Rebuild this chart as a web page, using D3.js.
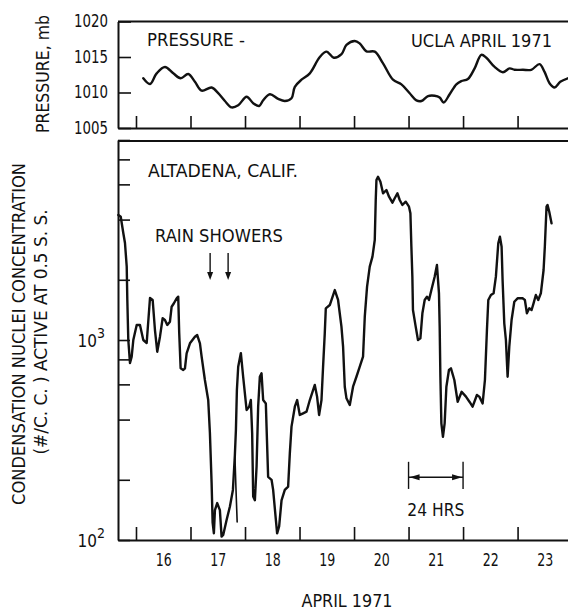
<!DOCTYPE html>
<html>
<head>
<meta charset="utf-8">
<script src="https://cdn.jsdelivr.net/npm/d3@7"></script>
<style>
  html, body { margin: 0; padding: 0; background: #fff; }
  svg { display: block; }
  text { font-family: "Liberation Sans Narrow", "DejaVu Sans Condensed", "Arial Narrow", sans-serif; fill: #111; }
</style>
</head>
<body>
<svg id="chart" width="568" height="612"></svg>
<script>
// Surface pressure at UCLA, April 1971: [day of month, mb]
const pressureDays = [16.134,16.257,16.379,16.531,16.684,16.819,16.958,17.081,17.204,17.387,17.508,17.631,17.754,17.875,18.029,18.150,18.259,18.333,18.456,18.608,18.730,18.853,18.914,19.036,19.189,19.372,19.495,19.628,19.770,19.861,20.013,20.105,20.228,20.380,20.532,20.715,20.869,21.021,21.144,21.236,21.357,21.479,21.571,21.644,21.754,21.877,21.968,22.089,22.212,22.335,22.427,22.579,22.731,22.854,22.945,23.097,23.251,23.403,23.495,23.586,23.678,23.783,23.922];
const pressureMb = [1012.0,1011.2,1012.7,1013.6,1012.7,1012.0,1012.6,1011.5,1010.25,1010.7,1009.9,1008.8,1007.9,1008.2,1009.4,1008.5,1008.1,1008.9,1009.75,1009.1,1008.8,1009.2,1010.8,1011.8,1012.7,1015.0,1015.75,1014.9,1015.4,1016.7,1017.25,1016.9,1015.8,1015.75,1014.1,1011.8,1011.15,1009.9,1008.9,1008.8,1009.5,1009.55,1009.3,1008.6,1009.75,1011.15,1011.6,1011.9,1013.4,1015.3,1014.9,1013.6,1012.85,1013.4,1013.2,1013.2,1013.2,1014.0,1012.9,1011.3,1010.7,1011.5,1012.0];

// Condensation nuclei active at 0.5% supersaturation, Altadena: [day, #/cc]
const cnDays = [15.676,15.720,15.767,15.798,15.830,15.841,15.859,15.890,15.921,15.951,16.013,16.073,16.134,16.196,16.257,16.306,16.348,16.390,16.440,16.489,16.531,16.574,16.623,16.654,16.696,16.746,16.775,16.793,16.819,16.867,16.898,16.929,16.990,17.081,17.123,17.173,17.204,17.264,17.325,17.356,17.387,17.406,17.429,17.448,17.490,17.539,17.570,17.600,17.662,17.723,17.778,17.814,17.833,17.851,17.875,17.924,17.966,18.029,18.076,18.107,18.131,18.150,18.181,18.212,18.241,18.272,18.303,18.333,18.382,18.395,18.424,18.487,18.516,18.566,18.589,18.626,18.670,18.730,18.791,18.822,18.853,18.914,18.956,19.005,19.066,19.128,19.189,19.280,19.322,19.359,19.403,19.432,19.463,19.482,19.555,19.647,19.707,19.769,19.799,19.830,19.861,19.922,19.982,20.044,20.105,20.165,20.197,20.239,20.288,20.338,20.380,20.398,20.411,20.440,20.484,20.532,20.594,20.642,20.704,20.746,20.796,20.838,20.887,20.948,21.008,21.034,21.052,21.070,21.081,21.131,21.173,21.217,21.254,21.296,21.338,21.375,21.419,21.479,21.521,21.558,21.571,21.584,21.602,21.631,21.662,21.694,21.741,21.778,21.840,21.901,21.974,22.053,22.120,22.175,22.254,22.298,22.359,22.401,22.438,22.463,22.511,22.560,22.602,22.646,22.676,22.707,22.725,22.756,22.786,22.817,22.848,22.890,22.940,23.000,23.092,23.134,23.171,23.215,23.257,23.293,23.335,23.379,23.427,23.477,23.500,23.531,23.550,23.581,23.623];
const cnValues = [4217,4135,3428,3055,2326,1585,1000,767,825,1000,1189,1189,1000,966,1622,1585,1122,874,1039,1284,1259,1189,1235,1467,1526,1616,1646,1084,722,708,722,858,963,1039,1059,963,825,631,501,343,193,122,108,141,153,141,104,106,126,147,178,266,355,562,735,860,655,447,464,501,343,165,158,233,464,655,681,501,482,369,207,200,178,126,108,117,158,178,185,271,369,464,501,422,430,438,501,596,521,422,501,735,1080,1440,1496,1778,1585,1166,926,584,511,473,584,655,735,825,1308,1847,2326,2610,3162,5012,6310,6553,6188,5414,5623,5206,4860,5112,5414,5012,4732,4914,4641,4300,2927,2073,1413,1166,1000,1020,1360,1585,1646,1585,1778,2073,2371,1712,1166,655,383,328,383,584,708,722,631,491,551,521,490,464,531,521,482,631,1122,1585,1679,1712,2073,3044,3285,2927,1995,1212,1000,655,926,1259,1554,1616,1616,1585,1360,1440,1413,1526,1679,1585,1712,2239,2927,4641,4732,4380,3833];

// Short detached pen trace during the showers
const cnBranchDays = [17.814, 17.833, 17.856];
const cnBranchValues = [266, 184, 123];

// Axis ticks and labels
const dayTicks = [16, 17, 18, 19, 20, 21, 22, 23];
const dayLabels = ["16", "17", "18", "19", "20", "21", "22", "23"];
const pressureTicks = [1005, 1010, 1015, 1020];
const cnTicks = [100, 200, 400, 600, 800, 1000, 2000, 4000, 6000, 8000, 10000];
const cnLabelled = [100, 1000];
const rainShowerDays = [17.36, 17.69];
const spanStart = 21, spanEnd = 22;

const svg = d3.select("#chart");
const W = 568;

const x = d3.scaleLinear().domain([15.67, 23.925]).range([118, W]);
const yP = d3.scaleLinear().domain([1005, 1020]).range([128, 21.5]);
const yC = d3.scaleLog().domain([100, 10000]).range([540, 140]);

const FONT = 17;

// condensed lettering: fit a label to a given run length
function label(g, txt, opts) {
  const t = g.append("text")
    .attr("font-size", opts.size || FONT + 1)
    .attr("text-anchor", opts.anchor || "start")
    .text(txt);
  if (opts.transform) t.attr("transform", opts.transform);
  else t.attr("x", opts.x).attr("y", opts.y);
  if (opts.len) t.attr("textLength", opts.len).attr("lengthAdjust", "spacingAndGlyphs");
  return t;
}

// ---------- pressure panel ----------
const gP = svg.append("g");

gP.append("line").attr("x1", x.range()[0]).attr("x2", W)
  .attr("y1", yP(1020)).attr("y2", yP(1020))
  .attr("stroke", "#111").attr("stroke-width", 2);

const axPB = gP.append("g").attr("transform", `translate(0,${yP(1005)})`)
  .call(d3.axisBottom(x).tickValues(dayTicks).tickSizeInner(-12).tickSizeOuter(0).tickFormat(""));
const axPL = gP.append("g").attr("transform", `translate(${x.range()[0]},0)`)
  .call(d3.axisLeft(yP).tickValues(pressureTicks).tickSizeInner(-13).tickSizeOuter(0).tickPadding(10).tickFormat(d3.format("d")));

[axPB, axPL].forEach(a => {
  a.select(".domain").attr("stroke", "#111").attr("stroke-width", 2);
  a.selectAll(".tick line").attr("stroke", "#111").attr("stroke-width", 1.6);
  a.selectAll("text").attr("font-size", FONT).attr("font-family", null).attr("fill", "#111");
});
axPL.selectAll(".tick text").attr("textLength", 34).attr("lengthAdjust", "spacingAndGlyphs");

gP.append("path")
  .datum(pressureDays.map((d, i) => [d, pressureMb[i]]))
  .attr("fill", "none").attr("stroke", "#111").attr("stroke-width", 2.4)
  .attr("stroke-linejoin", "round").attr("stroke-linecap", "round")
  .attr("d", d3.line().x(d => x(d[0])).y(d => yP(d[1])).curve(d3.curveCatmullRom.alpha(0.5)));

label(gP, "PRESSURE -", { x: 147, y: 46, len: 98 });
label(gP, "UCLA APRIL 1971", { x: 411, y: 47, len: 141 });
label(gP, "PRESSURE, mb", { transform: "translate(49,74) rotate(-90)", anchor: "middle", len: 118 });

// ---------- condensation nuclei panel ----------
const gC = svg.append("g");

gC.append("line").attr("x1", x.range()[0]).attr("x2", W)
  .attr("y1", yC(10000) + 1).attr("y2", yC(10000) + 1)
  .attr("stroke", "#111").attr("stroke-width", 2);

const axCB = gC.append("g").attr("transform", `translate(0,${yC(100)})`)
  .call(d3.axisBottom(x).tickValues(dayTicks).tickSizeInner(-13).tickSizeOuter(0).tickFormat(""));
const axCD = gC.append("g").attr("transform", `translate(0,${yC(100)})`)
  .call(d3.axisBottom(x).tickValues(dayTicks.map(d => d + 0.5)).tickSize(0).tickPadding(14)
    .tickFormat((d, i) => dayLabels[i]));
axCD.select(".domain").remove();

const axCL = gC.append("g").attr("transform", `translate(${x.range()[0]},0)`)
  .call(d3.axisLeft(yC).tickValues(cnTicks).tickSizeInner(-12).tickSizeOuter(0).tickPadding(12).tickFormat(""));

[axCB, axCL].forEach(a => {
  a.select(".domain").attr("stroke", "#111").attr("stroke-width", 2);
  a.selectAll(".tick line").attr("stroke", "#111").attr("stroke-width", 1.6);
});
axCD.selectAll("text").attr("font-size", FONT).attr("font-family", null).attr("fill", "#111")
  .attr("textLength", 16).attr("lengthAdjust", "spacingAndGlyphs");

// power-of-ten labels with superscripts
axCL.selectAll(".tick").filter(d => cnLabelled.includes(d)).each(function(d) {
  const t = d3.select(this).append("text")
    .attr("x", -13).attr("y", 6).attr("text-anchor", "end")
    .attr("font-size", FONT).attr("fill", "#111");
  t.append("tspan").text("10");
  t.append("tspan").attr("dy", -9).attr("font-size", FONT - 3).text(String(Math.round(Math.log10(d))));
});

// data trace
const cnLine = d3.line().x(d => x(d[0])).y(d => yC(d[1])).curve(d3.curveLinear);
gC.append("path")
  .datum(cnDays.map((d, i) => [d, cnValues[i]]))
  .attr("fill", "none").attr("stroke", "#111").attr("stroke-width", 2.4)
  .attr("stroke-linejoin", "round").attr("stroke-linecap", "round")
  .attr("d", cnLine);
gC.append("path")
  .datum(cnBranchDays.map((d, i) => [d, cnBranchValues[i]]))
  .attr("fill", "none").attr("stroke", "#111").attr("stroke-width", 1.6)
  .attr("stroke-linecap", "round")
  .attr("d", cnLine);

// annotations
label(gC, "ALTADENA, CALIF.", { x: 148, y: 177, len: 150 });
label(gC, "RAIN SHOWERS", { x: 155, y: 242, len: 128 });

const arrowTop = 253, arrowBot = 280;
rainShowerDays.forEach(d => {
  const ax = x(d);
  gC.append("line").attr("x1", ax).attr("x2", ax).attr("y1", arrowTop).attr("y2", arrowBot - 5)
    .attr("stroke", "#111").attr("stroke-width", 1.4);
  gC.append("path")
    .attr("d", `M${ax - 3},${arrowBot - 8} L${ax + 3},${arrowBot - 8} L${ax},${arrowBot} Z`)
    .attr("fill", "#111");
});

// 24-hour scale bar
const barY = yC(206), barTop = yC(246), barBot = yC(180);
const xs = x(spanStart), xe = x(spanEnd);
[xs, xe].forEach(bx => gC.append("line").attr("x1", bx).attr("x2", bx)
  .attr("y1", barTop).attr("y2", barBot).attr("stroke", "#111").attr("stroke-width", 1.4));
gC.append("line").attr("x1", xs).attr("x2", xe).attr("y1", barY).attr("y2", barY)
  .attr("stroke", "#111").attr("stroke-width", 1.4);
gC.append("path").attr("d", `M${xs + 1},${barY} L${xs + 11},${barY - 3} L${xs + 11},${barY + 3} Z`).attr("fill", "#111");
gC.append("path").attr("d", `M${xe - 1},${barY} L${xe - 11},${barY - 3} L${xe - 11},${barY + 3} Z`).attr("fill", "#111");
label(gC, "24 HRS", { x: (xs + xe) / 2, y: 516, anchor: "middle", size: FONT, len: 57 });

// axis titles
label(gC, "APRIL 1971", { x: 347, y: 607, anchor: "middle", len: 91 });
label(gC, "CONDENSATION NUCLEI CONCENTRATION", { transform: "translate(25,334) rotate(-90)", anchor: "middle", len: 342 });
label(gC, "(#/C. C. ) ACTIVE AT 0.5 S. S.", { transform: "translate(47,332) rotate(-90)", anchor: "middle", size: FONT, len: 245 });
</script>
</body>
</html>
